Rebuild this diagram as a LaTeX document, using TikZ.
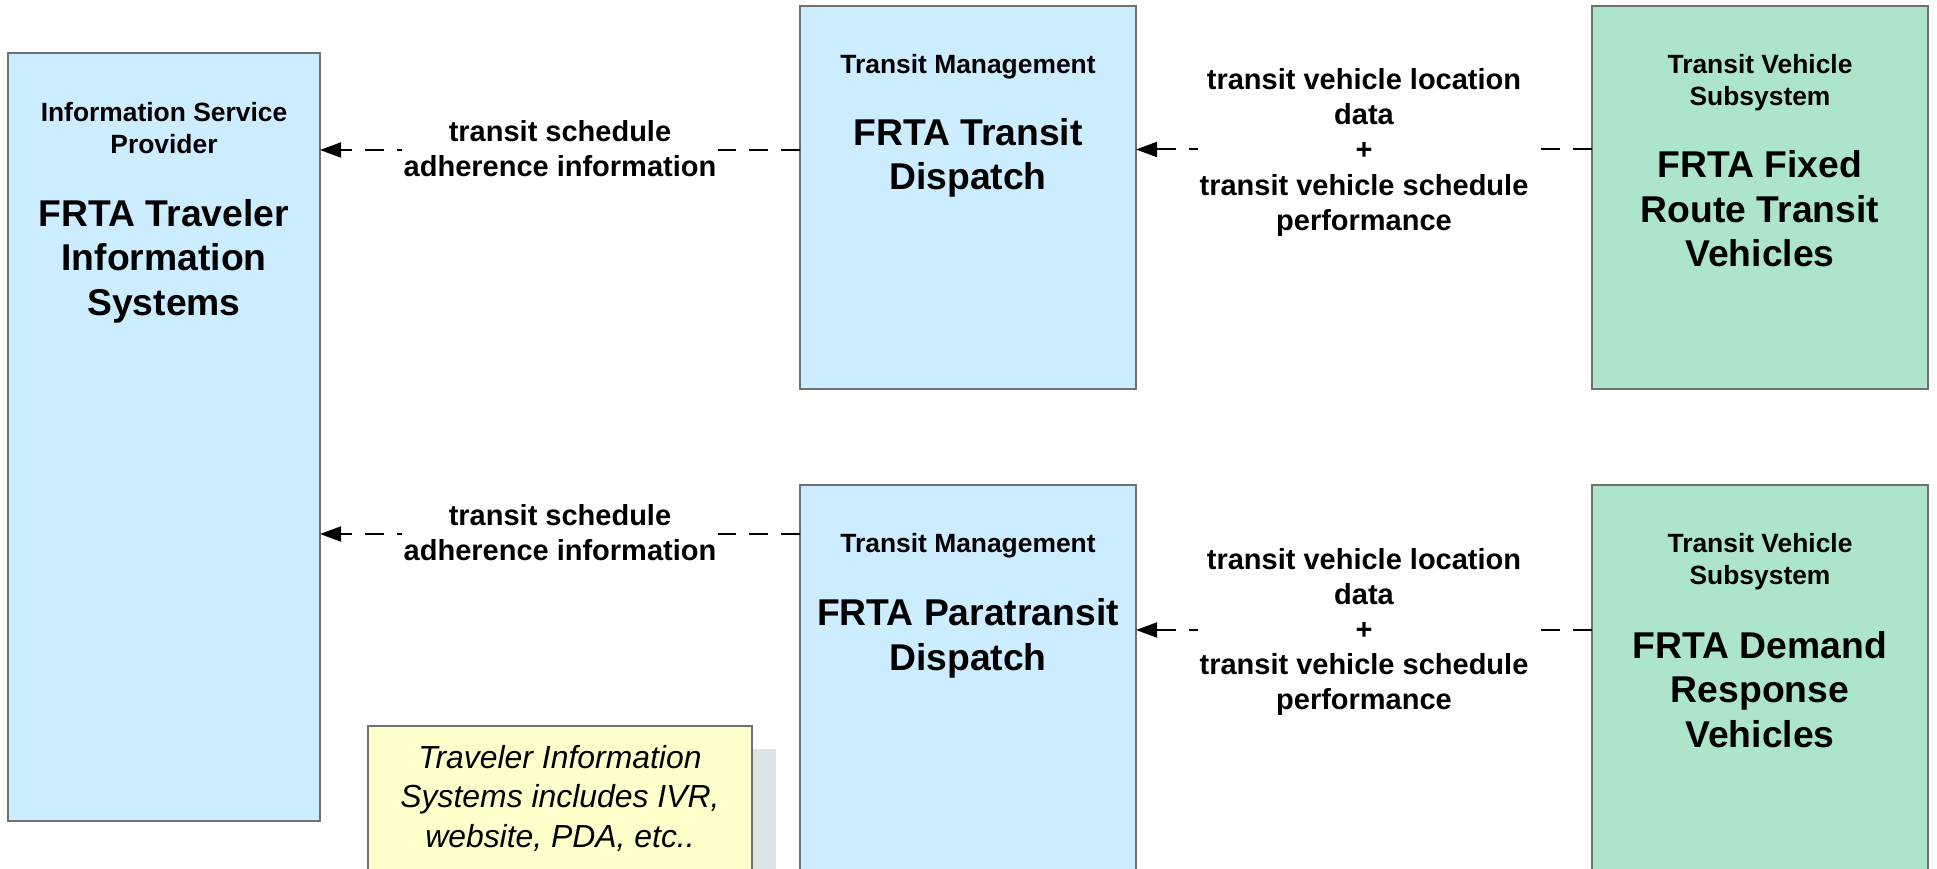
\documentclass[tikz,border=0pt]{standalone}
\usepackage{fontspec}
\setmainfont{Liberation Sans}
\usetikzlibrary{arrows.meta,calc}
\definecolor{boxblue}{HTML}{CCECFF}
\definecolor{boxgreen}{HTML}{ADE5CB}
\definecolor{noteyellow}{HTML}{FFFFCC}
\definecolor{shadowgrey}{HTML}{DCE4E6}
\definecolor{bordergrey}{HTML}{707070}
\tikzset{
  blockbox/.style={draw=bordergrey, line width=1.4pt, rectangle, inner sep=0pt, outer sep=0pt},
  hdr/.style={align=center, font=\fontsize{26.4}{32}\selectfont\bfseries, inner sep=0pt},
  ttl/.style={align=center, font=\fontsize{37.3}{44.5}\selectfont\bfseries, inner sep=0pt},
  lbl/.style={align=center, font=\fontsize{29}{34.8}\selectfont\bfseries, fill=white, inner sep=2pt},
  lblb/.style={align=center, font=\fontsize{29}{35.2}\selectfont\bfseries, fill=white, inner sep=2pt},
  conn/.style={line width=2pt, dash pattern=on 19pt off 13pt, -{Triangle[length=21pt,width=15pt]}},
  notebox/.style={draw=bordergrey, line width=1.2pt, fill=noteyellow, rectangle, inner sep=0pt},
}
\begin{document}
\begin{tikzpicture}[x=1pt,y=-1pt]
\useasboundingbox (0,0) rectangle (1937,869);
\clip (0,0) rectangle (1937,869);
% boxes
\node[blockbox, fill=boxblue, minimum width=312pt, minimum height=768pt] (isp) at (164,437) {};
\node[blockbox, fill=boxblue, minimum width=336pt, minimum height=383pt] (disp) at (968,197.5) {};
\node[blockbox, fill=boxblue, minimum width=336pt, minimum height=420pt] (para) at (968,695) {};
\node[blockbox, fill=boxgreen, minimum width=336pt, minimum height=383pt] (fixed) at (1760,197.5) {};
\node[blockbox, fill=boxgreen, minimum width=336pt, minimum height=420pt] (demand) at (1760,695) {};
% note with shadow
\fill[shadowgrey] (392,749) rectangle (776,900);
\node[notebox, minimum width=384pt, minimum height=174pt] (note) at (560,813) {};
\node[align=center, font=\fontsize{31.9}{39.5}\selectfont\itshape, inner sep=0pt] (notetext) at (560,798)
  {Traveler Information\\Systems includes IVR,\\website, PDA, etc..};
% texts
\node[hdr] (ispH) at (164,128.2) {Information Service\\Provider};
\node[ttl] (ispT) at (164,261.2) {FRTA Traveler\\Information\\Systems};
\node[hdr] (dispH) at (968,66.7) {Transit Management};
\node[ttl] (dispT) at (968,157.7) {FRTA Transit\\Dispatch};
\node[hdr] (paraH) at (968,546) {Transit Management};
\node[ttl] (paraT) at (968,638.5) {FRTA Paratransit\\Dispatch};
\node[hdr] (fixedH) at (1760,82.7) {Transit Vehicle\\Subsystem};
\node[ttl] (fixedT) at (1760,209) {FRTA Fixed\\Route Transit\\Vehicles};
\node[hdr] (demandH) at (1760,562) {Transit Vehicle\\Subsystem};
\node[ttl] (demandT) at (1760,689.5) {FRTA Demand\\Response\\Vehicles};
% connectors
\coordinate (r1) at (0,150);
\coordinate (r2) at (0,534);
\coordinate (r3) at (0,149.5);
\coordinate (r4) at (0,630);
\draw[conn] (disp.west |- r1) -- node[lbl, yshift=1pt] (l1) {transit schedule\\adherence information} (isp.east |- r1);
\draw[conn] (para.west |- r2) -- node[lbl, yshift=1pt] (l2) {transit schedule\\adherence information} (isp.east |- r2);
\draw[conn] (fixed.west |- r3) -- node[lblb, yshift=-3pt] (l3) {transit vehicle location\\data\\+\\transit vehicle schedule\\performance} (disp.east |- r3);
\draw[conn] (demand.west |- r4) -- node[lblb, yshift=-2pt] (l4) {transit vehicle location\\data\\+\\transit vehicle schedule\\performance} (para.east |- r4);
\end{tikzpicture}
\end{document}
